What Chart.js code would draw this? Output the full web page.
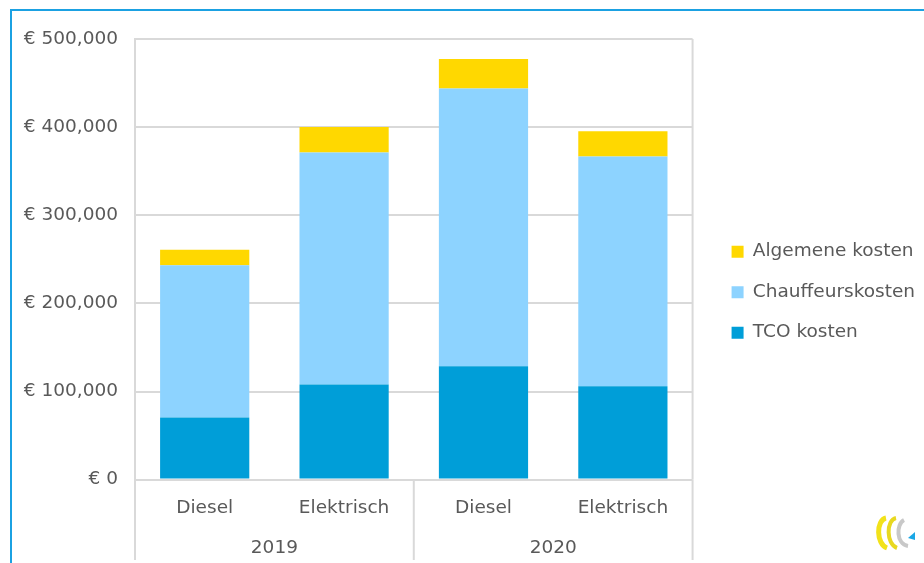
<!DOCTYPE html>
<html>
<head>
<meta charset="utf-8">
<script src="https://cdn.jsdelivr.net/npm/chart.js@4"></script>
<style>
    html, body { margin: 0; padding: 0; background: #fff; }
    #frame {
        position: absolute; left: 10px; top: 9px; width: 914px; height: 554px;
        border-left: 2px solid #1ba1e2; border-top: 2px solid #1ba1e2;
    }
    #wrap { position: absolute; left: 0; top: 0; width: 912px; height: 552px; }
    #logo { position: absolute; left: 862px; top: 503px; }
</style>
</head>
<body>
<div id="frame">
    <div id="wrap"><canvas id="chart"></canvas></div>
    <svg id="logo" width="42" height="40" viewBox="0 0 42 40">
        <path d="M12 4 C2 6 2 30 13 34" stroke="#f2e21a" stroke-width="5" fill="none"/>
        <path d="M22 4 C12 6 12 30 23 34" stroke="#e8d820" stroke-width="4" fill="none"/>
        <path d="M30 6 C22 10 22 30 34 32" stroke="#c8c8c8" stroke-width="4" fill="none"/>
        <path d="M34 24 L41 18 L41 26 Z" fill="#1aa7e6"/>
    </svg>
</div>
<script>
// Gegevens
const types = ['Diesel', 'Elektrisch', 'Diesel', 'Elektrisch'];
const years = ['2019', '2020'];
const tcoKosten = [70500, 108000, 128800, 106000];
const chauffeursKosten = [172700, 263200, 315200, 260700];
const algemeneKosten = [17800, 29000, 33300, 28800];
const yTicks = [0, 100000, 200000, 300000, 400000, 500000];

const textColor = '#595959';
const gridColor = '#d9d9d9';
const fontFamily = "'DejaVu Sans', Verdana, sans-serif";
const fontSize = 18.5;

// Scheidingslijnen onder de x-as en rand rechts
const separators = {
    id: 'separators',
    afterDraw(chart) {
        const x = chart.scales.x;
        const x2 = chart.scales.x2;
        const area = chart.chartArea;
        const ctx = chart.ctx;
        const mid = (x.getPixelForValue(1) + x.getPixelForValue(2)) / 2;
        ctx.save();
        ctx.strokeStyle = gridColor;
        ctx.lineWidth = 2;
        [area.left, mid, area.right].forEach(px => {
            ctx.beginPath();
            ctx.moveTo(px, area.bottom);
            ctx.lineTo(px, x2.bottom);
            ctx.stroke();
        });
        ctx.beginPath();
        ctx.moveTo(area.right, area.top);
        ctx.lineTo(area.right, area.bottom);
        ctx.stroke();
        ctx.restore();
    }
};

// Extra ruimte links van de legenda
const legendGap = {
    id: 'legendGap',
    afterInit(chart) {
        const lg = chart.legend;
        if (!lg) return;
        const fit = lg.fit.bind(lg);
        lg.fit = function() {
            fit();
            this.width += 16;
        };
    },
    afterLayout(chart) {
        if (chart.legend) chart.legend.left += 17;
    }
};

new Chart(document.getElementById('chart'), {
    type: 'bar',
    data: {
        labels: types,
        datasets: [
            { label: 'TCO kosten', data: tcoKosten, backgroundColor: '#009ed8' },
            { label: 'Chauffeurskosten', data: chauffeursKosten, backgroundColor: '#8dd3ff' },
            { label: 'Algemene kosten', data: algemeneKosten, backgroundColor: '#ffd800' }
        ]
    },
    options: {
        responsive: true,
        maintainAspectRatio: false,
        animation: false,
        layout: { padding: { top: 28, left: 0, right: 0, bottom: 3 } },
        datasets: { bar: { barPercentage: 0.64, categoryPercentage: 1 } },
        plugins: {
            tooltip: { enabled: false },
            legend: {
                position: 'right',
                align: 'start',
                reverse: true,
                title: { display: true, text: ' ', color: 'rgba(0,0,0,0)', padding: { top: 167, bottom: 0 }, font: { size: 12 } },
                labels: {
                    boxWidth: 12,
                    boxHeight: 12,
                    padding: 22,
                    color: textColor,
                    font: { family: fontFamily, size: fontSize }
                }
            }
        },
        scales: {
            x: {
                stacked: true,
                grid: { display: false, drawTicks: false },
                border: { display: false },
                ticks: { color: textColor, padding: 17, font: { family: fontFamily, size: fontSize } }
            },
            x2: {
                type: 'category',
                labels: years,
                position: 'bottom',
                offset: true,
                grid: { display: false, drawTicks: false },
                border: { display: false },
                ticks: { color: textColor, padding: 1, font: { family: fontFamily, size: fontSize } }
            },
            y: {
                stacked: true,
                min: 0,
                max: 500000,
                afterFit: scale => { scale.width = 123; },
                afterBuildTicks: scale => { scale.ticks = yTicks.map(v => ({ value: v })); },
                grid: { color: gridColor, lineWidth: 2, drawTicks: false },
                border: { color: gridColor, width: 2 },
                ticks: {
                    color: textColor,
                    padding: 17,
                    font: { family: fontFamily, size: fontSize },
                    callback: v => '€ ' + Number(v).toLocaleString('en-US')
                }
            }
        }
    },
    plugins: [separators, legendGap]
});
</script>
</body>
</html>
